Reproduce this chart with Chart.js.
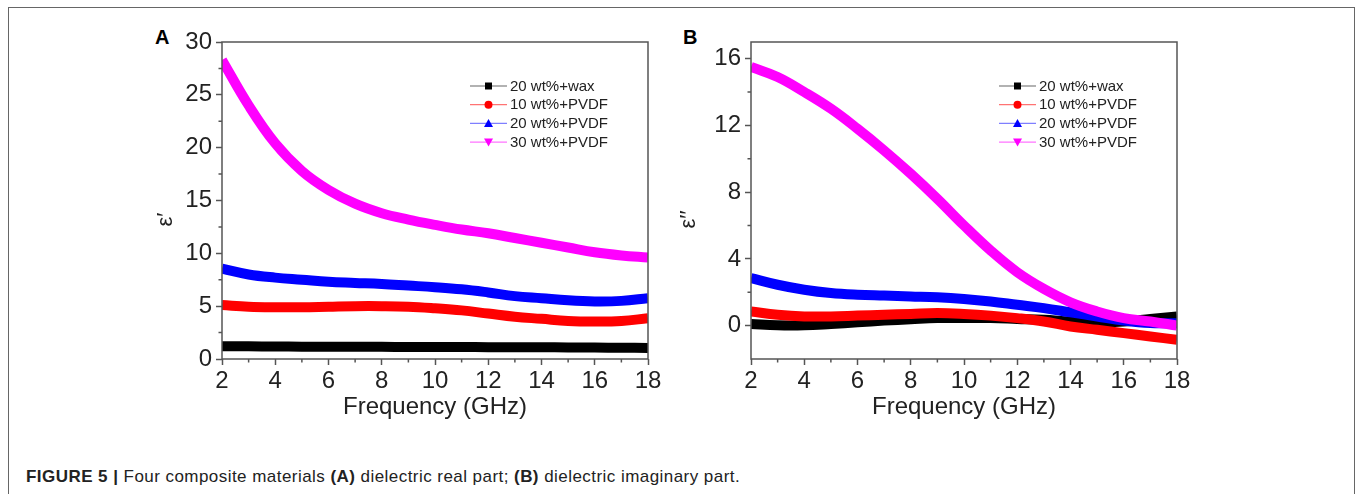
<!DOCTYPE html>
<html>
<head>
<meta charset="utf-8">
<script src="https://cdn.jsdelivr.net/npm/chart.js@4.4.0/dist/chart.umd.min.js"></script>
<style>
body { margin: 0; width: 1357px; height: 494px; background: #fff; position: relative; overflow: hidden; font-family: "Liberation Sans", Arial, sans-serif; }
#frame { position: absolute; left: 8px; top: 7px; width: 1345px; height: 520px; border: 1.5px solid #666; }
.box { position: absolute; top: 20px; width: 540px; height: 410px; }
#boxA { left: 130px; }
#boxB { left: 660px; }
.panel { position: absolute; font-weight: bold; font-size: 20px; color: #000; }
#caption { position: absolute; left: 26px; top: 467px; font-size: 17px; letter-spacing: 0.45px; color: #222; white-space: nowrap; }
</style>
</head>
<body>
<div id="frame"></div>
<div class="panel" style="left:155px;top:26px">A</div>
<div class="panel" style="left:683px;top:26px">B</div>
<div class="box" id="boxA"><canvas id="chartA" width="540" height="410"></canvas></div>
<div class="box" id="boxB"><canvas id="chartB" width="540" height="410"></canvas></div>
<div id="caption"><b>FIGURE 5 |</b> Four composite materials <b>(A)</b> dielectric real part; <b>(B)</b> dielectric imaginary part.</div>

<script>
const freq = [2, 3, 4, 5, 6, 7, 8, 9, 10, 11, 12, 13, 14, 15, 16, 17, 18];
const seriesLabels = ['20 wt%+wax', '10 wt%+PVDF', '20 wt%+PVDF', '30 wt%+PVDF'];

// (A) real part
const realWax    = [1.2, 1.2, 1.18, 1.17, 1.16, 1.15, 1.15, 1.14, 1.13, 1.13, 1.12, 1.12, 1.11, 1.1, 1.08, 1.06, 1.05];
const realPvdf10 = [5.1, 4.95, 4.9, 4.9, 4.95, 5.0, 5.0, 4.95, 4.8, 4.6, 4.3, 4.0, 3.8, 3.6, 3.55, 3.6, 3.85];
const realPvdf20 = [8.55, 8.0, 7.7, 7.5, 7.3, 7.2, 7.1, 6.95, 6.8, 6.6, 6.3, 5.95, 5.75, 5.55, 5.45, 5.5, 5.75];
const realPvdf30 = [28.3, 24.0, 20.4, 17.8, 16.0, 14.7, 13.8, 13.2, 12.7, 12.25, 11.9, 11.45, 11.0, 10.55, 10.1, 9.8, 9.6];

// (B) imaginary part
const imagWax    = [0.1, 0.02, 0.02, 0.1, 0.2, 0.3, 0.38, 0.45, 0.45, 0.45, 0.4, 0.35, 0.25, 0.2, 0.25, 0.4, 0.55];
const imagPvdf10 = [0.85, 0.65, 0.55, 0.55, 0.6, 0.65, 0.7, 0.75, 0.7, 0.6, 0.45, 0.25, -0.05, -0.25, -0.45, -0.65, -0.85];
const imagPvdf20 = [2.85, 2.45, 2.15, 1.95, 1.85, 1.8, 1.75, 1.7, 1.6, 1.45, 1.25, 1.05, 0.8, 0.55, 0.3, 0.15, 0.15];
const imagPvdf30 = [15.5, 14.9, 14.0, 13.0, 11.8, 10.5, 9.1, 7.6, 6.0, 4.5, 3.2, 2.2, 1.4, 0.85, 0.45, 0.25, 0.0];

const freqTicks = [2, 4, 6, 8, 10, 12, 14, 16, 18];
const freqMinor = [3, 5, 7, 9, 11, 13, 15, 17];
const realTicks = [0, 5, 10, 15, 20, 25, 30];
const realMinor = [2.5, 7.5, 12.5, 17.5, 22.5, 27.5];
const imagTicks = [0, 4, 8, 12, 16];
const imagMinor = [2, 6, 10, 14];

const colors = ['#000000', '#ff0000', '#0000ff', '#ff00ff'];
const legendLine = ['rgba(0,0,0,0.6)', 'rgba(255,0,0,0.55)', 'rgba(0,0,255,0.5)', 'rgba(255,0,255,0.55)'];
const markers = ['rect', 'circle', 'triangle', 'triangleDown'];
const FONT = '"Liberation Sans", Arial, sans-serif';

function drawMarker(ctx, kind, x, y, r) {
    ctx.beginPath();
    if (kind === 'rect') {
        ctx.rect(x - r, y - r, 2 * r, 2 * r);
    } else if (kind === 'circle') {
        ctx.arc(x, y, r + 0.5, 0, Math.PI * 2);
    } else if (kind === 'triangle') {
        ctx.moveTo(x, y - r - 1); ctx.lineTo(x + r + 1, y + r); ctx.lineTo(x - r - 1, y + r);
    } else {
        ctx.moveTo(x, y + r + 1); ctx.lineTo(x + r + 1, y - r); ctx.lineTo(x - r - 1, y - r);
    }
    ctx.closePath();
    ctx.fill();
}

const framePlugin = {
    id: 'frame',
    afterDatasetsDraw(chart, args, opts) {
        const { ctx, chartArea: a, scales } = chart;
        ctx.save();
        ctx.strokeStyle = '#555';
        ctx.lineWidth = 1.5;
        ctx.strokeRect(a.left, a.top, a.right - a.left, a.bottom - a.top);

        ctx.beginPath();
        opts.xMinor.forEach(v => {
            const px = scales.x.getPixelForValue(v);
            ctx.moveTo(px, a.bottom); ctx.lineTo(px, a.bottom + 3.5);
        });
        opts.yMinor.forEach(v => {
            const py = scales.y.getPixelForValue(v);
            ctx.moveTo(a.left, py); ctx.lineTo(a.left - 3.5, py);
        });
        ctx.stroke();

        // y axis title, sits a little below the middle like the original
        ctx.save();
        ctx.translate(a.left - opts.titleDx, a.top + (a.bottom - a.top) * 0.56);
        ctx.rotate(-Math.PI / 2);
        ctx.fillStyle = '#222';
        ctx.font = '22px ' + FONT;
        ctx.textAlign = 'center';
        ctx.textBaseline = 'middle';
        ctx.fillText(opts.yTitle, 0, 0);
        ctx.restore();

        // legend inside the plot
        const x0 = a.left + 248;
        chart.data.datasets.forEach((ds, i) => {
            const y = a.top + 44 + i * 18.7;
            ctx.strokeStyle = legendLine[i];
            ctx.lineWidth = 1.2;
            ctx.beginPath(); ctx.moveTo(x0, y); ctx.lineTo(x0 + 37, y); ctx.stroke();
            ctx.fillStyle = colors[i];
            drawMarker(ctx, markers[i], x0 + 18.5, y, 3.5);
            ctx.fillStyle = '#222';
            ctx.font = '15px ' + FONT;
            ctx.textBaseline = 'middle';
            ctx.textAlign = 'left';
            ctx.fillText(ds.label, x0 + 40, y + 0.5);
        });
        ctx.restore();
    }
};

function makeChart(id, series, yTicks, yMinor, yMin, yMax, yTitle, titleDx, yWidth, rightPad) {
    return new Chart(document.getElementById(id), {
        type: 'line',
        data: {
            datasets: series.map((vals, i) => ({
                label: seriesLabels[i],
                data: freq.map((f, j) => ({ x: f, y: vals[j] })),
                borderColor: colors[i],
                backgroundColor: colors[i],
                borderWidth: 10,
                pointRadius: 0,
                tension: 0.4,
                fill: false,
                order: 3 - i
            }))
        },
        options: {
            responsive: false,
            animation: false,
            layout: { padding: { top: 22, left: 0, right: rightPad, bottom: 0 } },
            plugins: {
                legend: { display: false },
                tooltip: { enabled: false },
                frame: { xMinor: freqMinor, yMinor: yMinor, yTitle: yTitle, titleDx: titleDx }
            },
            scales: {
                x: {
                    type: 'linear',
                    min: 2, max: 18,
                    afterBuildTicks: axis => { axis.ticks = freqTicks.map(v => ({ value: v })); },
                    afterFit: axis => { axis.height = 71; },
                    ticks: { color: '#222', font: { family: FONT, size: 24 }, padding: 2, maxRotation: 0 },
                    grid: { drawOnChartArea: false, tickLength: 6, tickColor: '#555', tickWidth: 1.5 },
                    border: { display: false },
                    title: { display: true, text: 'Frequency (GHz)', color: '#222', font: { family: FONT, size: 24 }, padding: { top: 0, bottom: 8 } }
                },
                y: {
                    min: yMin, max: yMax,
                    afterBuildTicks: axis => { axis.ticks = yTicks.map(v => ({ value: v })); },
                    afterFit: axis => { axis.width = yWidth; },
                    ticks: { color: '#222', font: { family: FONT, size: 24 }, padding: 4 },
                    grid: { drawOnChartArea: false, tickLength: 6, tickColor: '#555', tickWidth: 1.5 },
                    border: { display: false }
                }
            }
        },
        plugins: [framePlugin]
    });
}

makeChart('chartA', [realWax, realPvdf10, realPvdf20, realPvdf30], realTicks, realMinor, 0, 30, 'ε\u2032', 56, 92, 22);
makeChart('chartB', [imagWax, imagPvdf10, imagPvdf20, imagPvdf30], imagTicks, imagMinor, -2, 17, 'ε\u2032\u2032', 62, 91, 23);
</script>
</body>
</html>
